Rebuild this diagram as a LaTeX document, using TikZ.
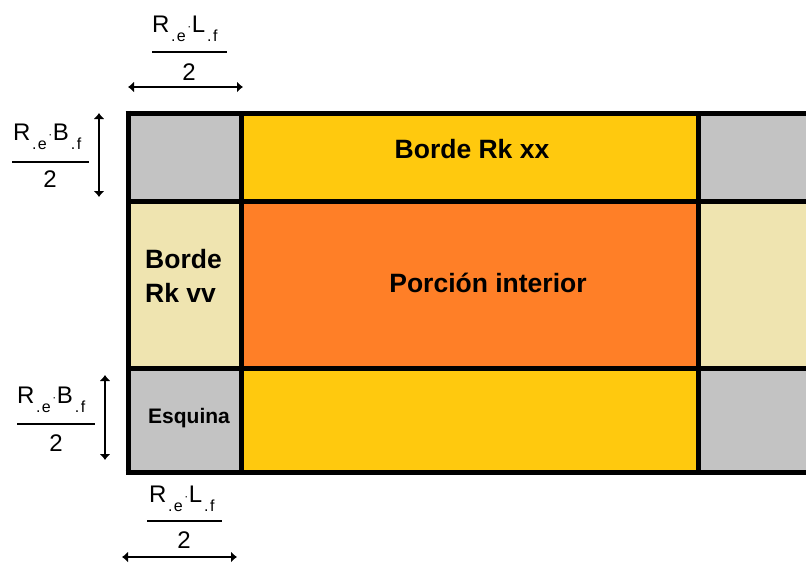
\documentclass[tikz,border=0pt]{standalone}
\usepackage{fontspec}
\setmainfont{Liberation Sans}
\usetikzlibrary{arrows.meta}
\definecolor{cgray}{HTML}{C3C3C3}
\definecolor{ccream}{HTML}{EFE4B0}
\definecolor{cgold}{HTML}{FFC90E}
\definecolor{corange}{HTML}{FF7F27}
\newcommand{\subsc}[1]{\raisebox{-9pt}{\fontsize{16}{16}\selectfont .\hspace{1.5pt}#1}}
\newcommand{\numfr}[2]{#1\hspace{1.5pt}\subsc{e}\hspace{1.5pt}\raisebox{2pt}{\fontsize{12}{12}\selectfont ·}\hspace{0.5pt}#2\hspace{2pt}\subsc{f}}
\begin{document}
\begin{tikzpicture}[x=1pt,y=-1pt,
  grid/.style={draw=black,line width=5pt},
  bigtxt/.style={inner sep=0pt,font=\bfseries\fontsize{26.5}{26.5}\selectfont},
  smalltxt/.style={inner sep=0pt,font=\bfseries\fontsize{21}{21}\selectfont},
  fractxt/.style={inner sep=0pt,font=\fontsize{24}{24}\selectfont},
  fracbar/.style={draw=black,line width=1.5pt},
  dimarrow/.style={draw=black,line width=1.6pt,{Latex[length=6pt,width=11pt]}-{Latex[length=6pt,width=11pt]}}]
\useasboundingbox (0,0) rectangle (806,563);
% cells
\fill[cgray]   (128,113) rectangle (241,201);
\fill[cgold]   (241,113) rectangle (698,201);
\fill[cgray]   (698,113) rectangle (806,201);
\fill[ccream]  (128,201) rectangle (241,368);
\fill[corange] (241,201) rectangle (698,368);
\fill[ccream]  (698,201) rectangle (806,368);
\fill[cgray]   (128,368) rectangle (241,472);
\fill[cgold]   (241,368) rectangle (698,472);
\fill[cgray]   (698,368) rectangle (806,472);
% grid lines
\draw[grid] (125.5,113) -- (806,113);
\draw[grid] (128,201) -- (806,201);
\draw[grid] (128,368) -- (806,368);
\draw[grid] (125.5,472) -- (806,472);
\draw[grid] (128,110.5) -- (128,474.5);
\draw[grid] (241,113) -- (241,472);
\draw[grid] (698,113) -- (698,472);
% texts
\node[bigtxt,anchor=base] (bxx) at (472,158) {Borde Rk xx};
\node[bigtxt,anchor=base] (pint) at (488,292) {Porción interior};
\node[bigtxt,anchor=base west] (bvv1) at (145,268) {Borde};
\node[bigtxt,anchor=base west] (bvv2) at (145,302) {Rk vv};
\node[smalltxt,anchor=base] (esq) at (189,423) {Esquina};
% top fraction
\node[fractxt,anchor=base west] (tnum) at (152,32) {\numfr{R}{L}};
\draw[fracbar] (152,52) -- (227,52);
\node[fractxt,anchor=base] (tden) at (189,80) {2};
\coordinate (ta) at (128,87);
\coordinate (tb) at (243,87);
\draw[dimarrow] (ta) -- (tb);
% left top fraction
\node[fractxt,anchor=base west] (lnum) at (13,140) {\numfr{R}{B}};
\draw[fracbar] (12,162) -- (89,162);
\node[fractxt,anchor=base] (lden) at (50,187) {2};
\coordinate (la) at (99,113);
\coordinate (lb) at (99,197);
\draw[dimarrow] (la) -- (lb);
% left bottom fraction
\node[fractxt,anchor=base west] (bnum) at (17,403) {\numfr{R}{B}};
\draw[fracbar] (17,424) -- (95,424);
\node[fractxt,anchor=base] (bden) at (56,451) {2};
\coordinate (ba) at (105,375);
\coordinate (bb) at (105,460);
\draw[dimarrow] (ba) -- (bb);
% bottom fraction
\node[fractxt,anchor=base west] (dnum) at (149,502) {\numfr{R}{L}};
\draw[fracbar] (147,521) -- (222,521);
\node[fractxt,anchor=base] (dden) at (184,548) {2};
\coordinate (da) at (122,557);
\coordinate (db) at (237,557);
\draw[dimarrow] (da) -- (db);
\end{tikzpicture}
\end{document}
